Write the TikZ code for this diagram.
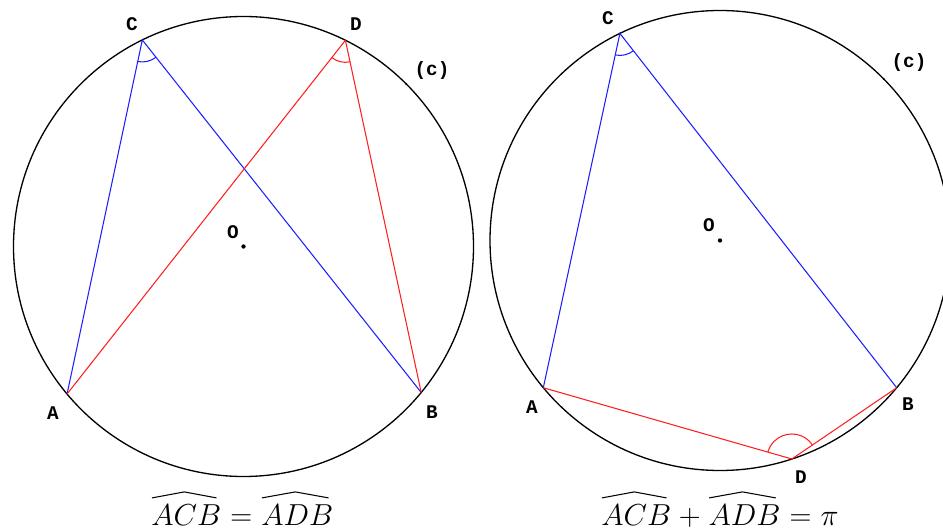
\documentclass[tikz,border=0pt]{standalone}
\usepackage{fontspec}
\setmonofont{Liberation Mono}
\usetikzlibrary{angles,calc,positioning}
\definecolor{chordblue}{HTML}{1E1EFF}
\definecolor{chordred}{HTML}{FF1E1E}
\tikzset{
  circ/.style={draw=black,line width=0.75pt},
  blueline/.style={draw=chordblue,line width=0.6pt},
  redline/.style={draw=chordred,line width=0.6pt},
  ptlabel/.style={font=\ttfamily\bfseries\fontsize{11}{13}\selectfont,inner sep=0pt},
  formula/.style={font=\fontsize{18}{21}\selectfont,inner sep=0pt,anchor=base west},
  hat/.style={draw=black,line width=0.6pt,line join=miter},
  anglemark/.style={draw,line width=0.6pt,angle radius=0.44cm},
  centre/.style={circle,fill=black,inner sep=0pt,minimum size=2.5pt}
}

\begin{document}
\begin{tikzpicture}[x=0.02cm,y=0.02cm]
\useasboundingbox (0,0) rectangle (943,531);
\begin{scope}
\clip (0,0) rectangle (943,531);
\coordinate (O1) at (243.5,284.5);
\coordinate (C1) at ($(O1)+(116.1:230)$);
\coordinate (D1) at ($(O1)+(63.7:230)$);
\coordinate (A1) at ($(O1)+(219.9:230)$);
\coordinate (B1) at ($(O1)+(-39.4:230)$);
\coordinate (T1) at ($(O1)+(45:230)$);
\draw[circ] (O1) circle (230);
\node[centre] at (O1) {};
\fill (T1) circle (1.2);
\draw[blueline] (A1) -- (C1) -- (B1);
\draw[redline] (A1) -- (D1) -- (B1);
\pic[anglemark,draw=chordblue] {angle=A1--C1--B1};
\pic[anglemark,draw=chordred] {angle=A1--D1--B1};
\node[ptlabel] (lC1) at (132,507) {C};
\node[ptlabel] (lD1) at (356,507) {D};
\node[ptlabel] (lA1) at (53,118) {A};
\node[ptlabel] (lB1) at (432,119) {B};
\node[ptlabel] (lO1) at (233,299) {O};
\node[ptlabel] (lT1) at (432,460) {(c)};
\node[formula] (acb1) at (151,6) {$ACB$};
\node[formula,base right=4.8pt of acb1] (eq1) {$=$};
\node[formula,base right=4.8pt of eq1] (adb1) {$ADB$};
\draw[hat] ($(acb1.north west)+(1,6)$) -- ($(acb1.north)+(-2,12)$) -- ($(acb1.north east)+(-5,6)$);
\draw[hat] ($(adb1.north west)+(1,6)$) -- ($(adb1.north)+(-2,12)$) -- ($(adb1.north east)+(-5,6)$);

\coordinate (O2) at (720,290.5);
\coordinate (C2) at ($(O2)+(115.8:230)$);
\coordinate (A2) at ($(O2)+(219.8:230)$);
\coordinate (B2) at ($(O2)+(-39.8:230)$);
\coordinate (D2) at ($(O2)+(-71.8:230)$);
\coordinate (T2) at ($(O2)+(44.6:230)$);
\draw[circ] (O2) circle (230);
\node[centre] at (O2) {};
\fill (T2) circle (1.2);
\draw[blueline] (A2) -- (C2) -- (B2);
\draw[redline] (A2) -- (D2) -- (B2);
\pic[anglemark,draw=chordblue] {angle=A2--C2--B2};
\pic[anglemark,draw=chordred,angle radius=0.5cm] {angle=B2--D2--A2};
\node[ptlabel] (lC2) at (608,513) {C};
\node[ptlabel] (lA2) at (532,124) {A};
\node[ptlabel] (lB2) at (908,127) {B};
\node[ptlabel] (lD2) at (801,54) {D};
\node[ptlabel] (lO2) at (709,306) {O};
\node[ptlabel] (lT2) at (909,468) {(c)};
\node[formula] (acb2) at (601,6) {$ACB$};
\node[formula,base right=4pt of acb2] (plus2) {$+$};
\node[formula,base right=4pt of plus2] (adb2) {$ADB$};
\node[formula,base right=4.8pt of adb2] (eq2) {$=$};
\node[formula,base right=4.8pt of eq2] (pi2) {$\pi$};
\draw[hat] ($(acb2.north west)+(1,6)$) -- ($(acb2.north)+(-2,12)$) -- ($(acb2.north east)+(-5,6)$);
\draw[hat] ($(adb2.north west)+(1,6)$) -- ($(adb2.north)+(-2,12)$) -- ($(adb2.north east)+(-5,6)$);
\end{scope}
\end{tikzpicture}
\end{document}
